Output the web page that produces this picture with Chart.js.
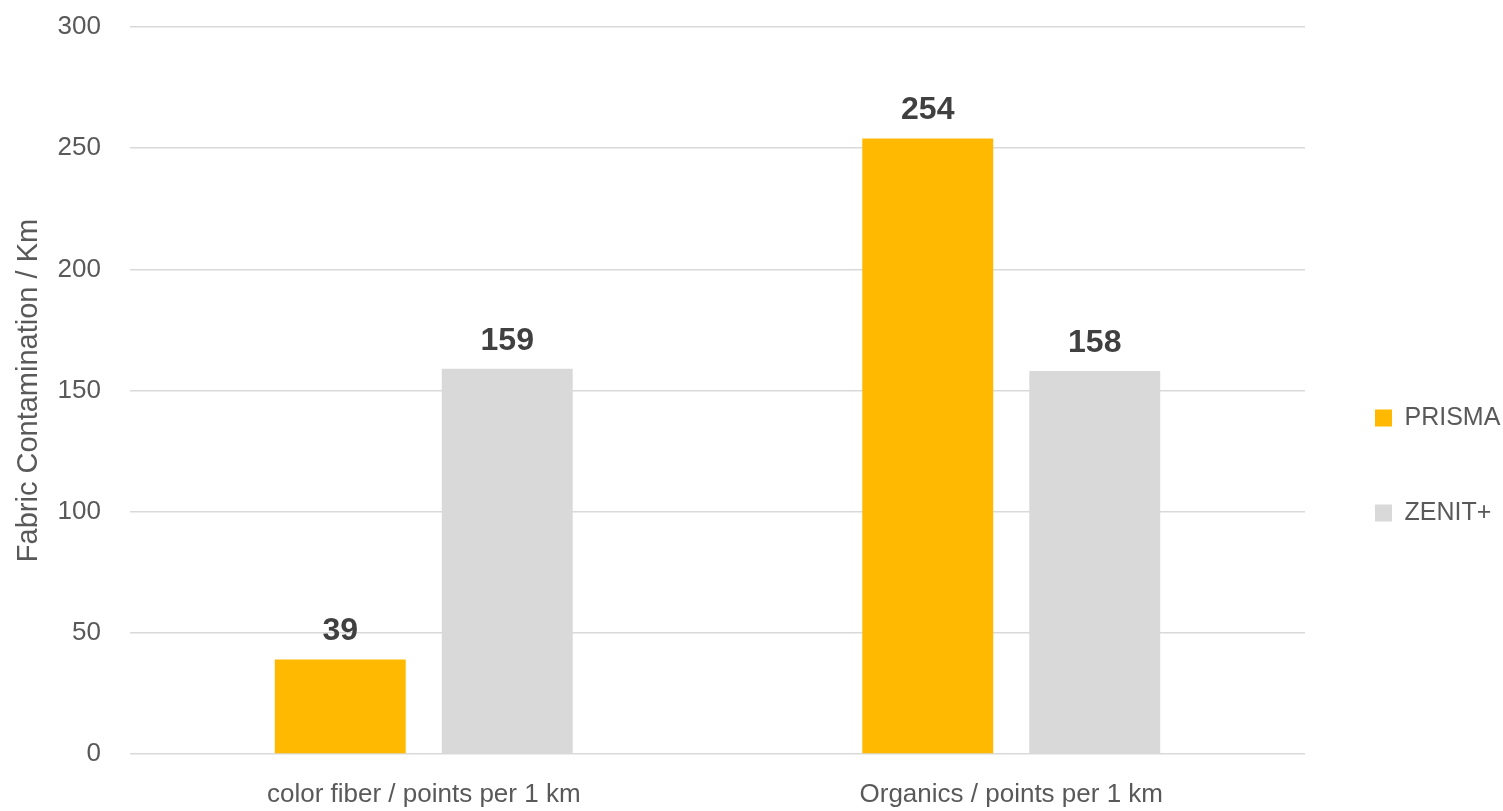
<!DOCTYPE html>
<html>
<head>
<meta charset="utf-8">
<script src="https://cdn.jsdelivr.net/npm/chart.js@4"></script>
<style>
  html, body { margin: 0; padding: 0; background: #fff; }
  #wrap { width: 1503px; height: 811px; position: relative; }
</style>
</head>
<body>
<div id="wrap"><canvas id="barChart"></canvas></div>
<script>
// dados
const categories = ['color fiber / points per 1 km', 'Organics / points per 1 km'];
const prismaValues = [39, 254];
const zenitValues = [159, 158];
const seriesNames = ['PRISMA', 'ZENIT+'];
const yTicks = [0, 50, 100, 150, 200, 250, 300];

const FONT = '"Liberation Sans Narrow", "Liberation Sans", Arial, sans-serif';
const TEXT = '#595959';

// rótulos de valor acima das barras
const valueLabels = {
    id: 'valueLabels',
    afterDatasetsDraw(chart) {
        const ctx = chart.ctx;
        ctx.save();
        ctx.font = 'bold 32px ' + FONT;
        ctx.fillStyle = '#404040';
        ctx.textAlign = 'center';
        ctx.textBaseline = 'alphabetic';
        chart.data.datasets.forEach((ds, i) => {
            chart.getDatasetMeta(i).data.forEach((bar, j) => {
                ctx.fillText(String(ds.data[j]), bar.x, bar.y - 19);
            });
        });
        ctx.restore();
    }
};

new Chart(document.getElementById('barChart'), {
    type: 'bar',
    data: {
        labels: categories,
        datasets: [
            { label: seriesNames[0], data: prismaValues, backgroundColor: '#FFB900' },
            { label: seriesNames[1], data: zenitValues, backgroundColor: '#D9D9D9' }
        ]
    },
    options: {
        responsive: true,
        maintainAspectRatio: false,
        animation: false,
        categoryPercentage: 0.5685,
        barPercentage: 0.784,
        layout: { padding: 0 },
        scales: {
            x: {
                grid: { display: false },
                border: { display: false },
                ticks: { color: TEXT, font: { family: FONT, size: 26 }, padding: 17 },
                afterFit(scale) { scale.height = 57; }
            },
            y: {
                min: 0,
                max: 300,
                afterBuildTicks(scale) { scale.ticks = yTicks.map(v => ({ value: v })); },
                grid: { color: '#D9D9D9', lineWidth: 1.5, drawTicks: false },
                border: { display: false },
                ticks: { color: TEXT, font: { family: FONT, size: 26 }, padding: 29 },
                title: {
                    display: true,
                    text: 'Fabric Contamination / Km',
                    color: TEXT,
                    font: { family: FONT, size: 29 },
                    padding: { top: 12, bottom: 0 }
                },
                afterFit(scale) {
                    scale.width = 130;
                    // a margem do topo fica fixa (o padding dos ticks somava aqui)
                    scale.paddingTop = 27;
                    scale.paddingBottom = 0;
                }
            }
        },
        plugins: {
            legend: {
                position: 'right',
                maxWidth: 198,
                title: { display: true, text: ' ', font: { size: 10 }, padding: { top: 108, bottom: 0 } },
                labels: {
                    color: TEXT,
                    font: { family: FONT, size: 25 },
                    boxWidth: 17,
                    boxHeight: 17,
                    padding: 70
                }
            },
            tooltip: { enabled: false }
        }
    },
    plugins: [valueLabels]
});
</script>
</body>
</html>
